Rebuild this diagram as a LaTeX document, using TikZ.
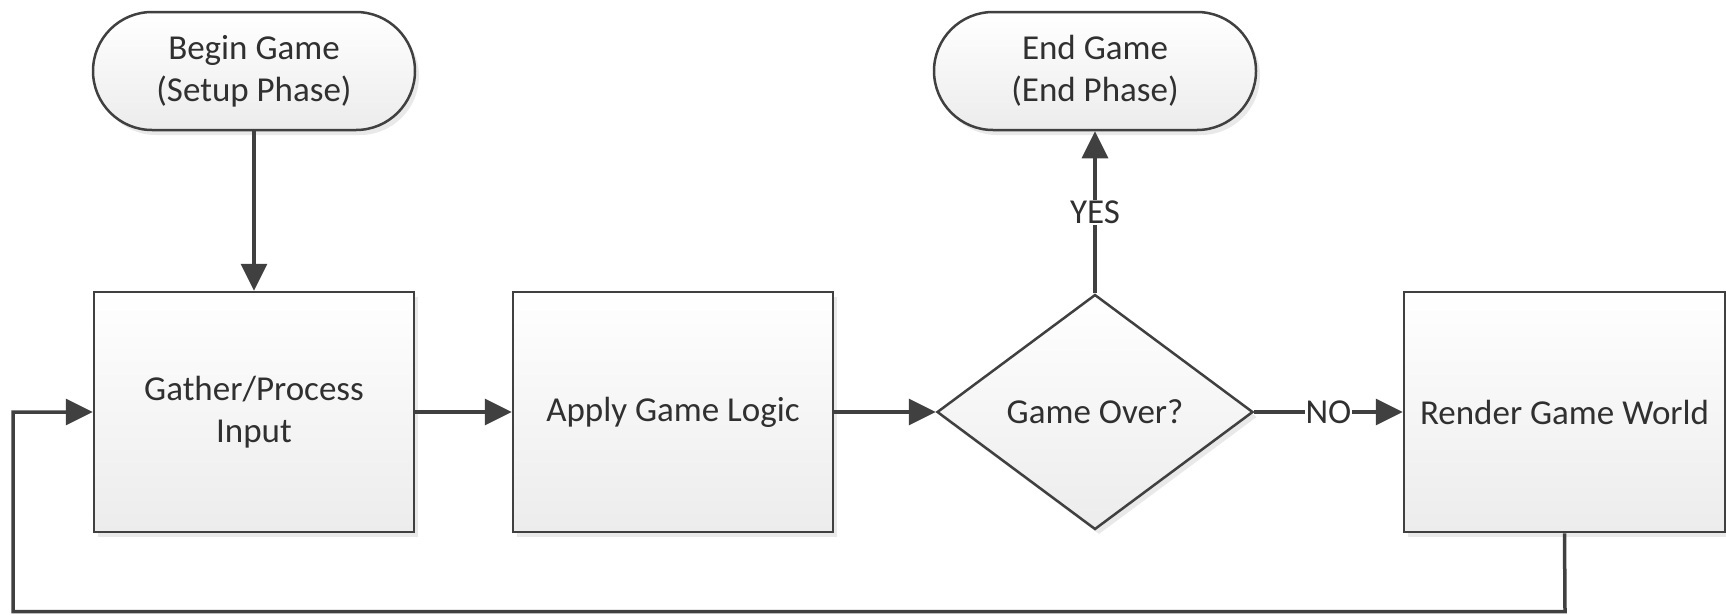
\documentclass[tikz,border=0pt]{standalone}
\usepackage{fontspec}
\setmainfont{Carlito}
\usetikzlibrary{shapes.geometric,arrows.meta,shadows}
\definecolor{lnc}{HTML}{404040}
\definecolor{txc}{HTML}{303030}
\definecolor{fillbot}{HTML}{ECECEC}
\tikzset{
  shapebase/.style={draw=lnc, line width=2.5pt, top color=white, bottom color=fillbot,
    text=txc, align=center, inner sep=0pt,
    font=\fontsize{35}{42}\selectfont,
    drop shadow={shadow xshift=4pt, shadow yshift=-5pt, fill=black!25, opacity=0.35}},
  terminal/.style={shapebase, rectangle, rounded corners=59pt, minimum width=322pt, minimum height=118pt},
  procbox/.style={shapebase, rectangle, minimum width=320pt, minimum height=240pt},
  decision/.style={shapebase, diamond, minimum width=316pt, minimum height=235pt},
  conn/.style={draw=lnc, line width=3.5pt, -{Triangle[length=27pt,width=26pt]}},
  plainconn/.style={draw=lnc, line width=3.5pt},
  lbl/.style={fill=white, text=txc, inner sep=1pt, font=\fontsize{35}{42}\selectfont}
}
\begin{document}
\begin{tikzpicture}[x=1pt,y=-1pt]
\useasboundingbox (0,0) rectangle (1726,614);
\node[terminal] (begin) at (254,71) {Begin Game\\(Setup Phase)};
\node[terminal] (endg) at (1095,71) {End Game\\(End Phase)};
\node[procbox] (gather) at (254,412) {Gather/Process\\Input};
\node[procbox] (apply) at (673,412) {Apply Game Logic};
\node[decision] (over) at (1095,412) {Game Over?};
\node[procbox, minimum width=321pt] (render) at (1564.5,412) {Render Game World};
\coordinate (cb) at (1565,611.5);
\coordinate (cl) at (13,611.5);
\draw[conn] (begin.south) -- (gather.north);
\draw[conn] (gather.east) -- (apply.west);
\draw[conn] (apply.east) -- (over.west);
\draw[conn] (over.east) -- node[lbl] {NO} (render.west);
\draw[conn] (over.north) -- node[lbl, pos=0.5] {YES} (endg.south);
\draw[conn, line join=miter] (render.south) -- (cb) -- (cl) |- (gather.west);
\end{tikzpicture}
\end{document}
